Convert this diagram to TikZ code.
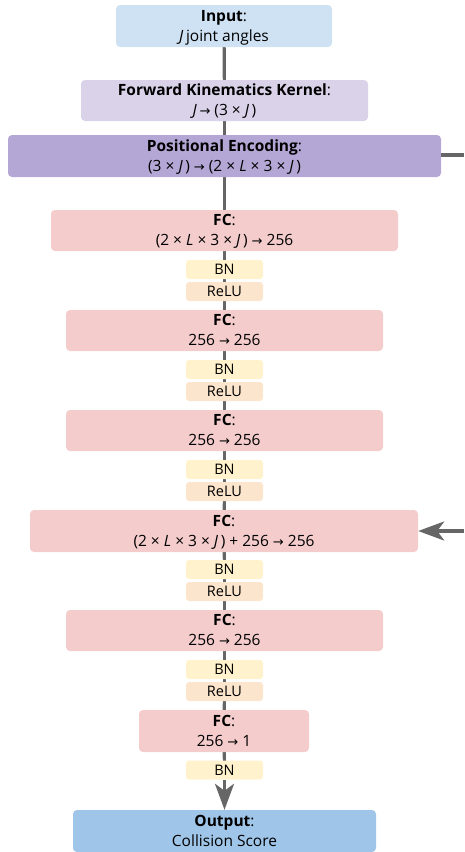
\documentclass[tikz,border=0pt]{standalone}
\usepackage{fontspec}
\setmainfont{Open Sans}
\newfontfamily\symf{DejaVu Sans}
\usetikzlibrary{arrows.meta,backgrounds}
\definecolor{cin}{HTML}{CFE2F3}
\definecolor{cfk}{HTML}{D9D2E9}
\definecolor{cpe}{HTML}{B4A7D6}
\definecolor{cfc}{HTML}{F4CCCC}
\definecolor{cbn}{HTML}{FFF2CC}
\definecolor{crl}{HTML}{FCE5CD}
\definecolor{cout}{HTML}{9FC5E8}
\definecolor{cline}{HTML}{666666}
\newcommand{\ra}{{\symf\fontsize{13}{13}\selectfont →}}
\newcommand{\tm}{×}
\newcommand{\JJ}{\textit{J}\,}
\tikzset{
  box/.style={rounded corners=4pt, inner sep=0pt, align=center,
    font=\fontsize{15.5}{20}\selectfont, minimum height=41pt,
    text height=33.5pt, text depth=3.5pt},
  small/.style={rounded corners=3pt, inner sep=0pt, align=center,
    font=\fontsize{14.5}{15}\selectfont, minimum height=19pt, minimum width=77pt},
  link/.style={draw=cline, line width=3.2pt},
  bigtip/.style={-{Stealth[length=26pt,width=19pt,inset=7pt]}}
}
\begin{document}
\begin{tikzpicture}[x=1pt,y=-1pt]
\useasboundingbox (0,0) rectangle (464,852);
\node[box, fill=cin, minimum width=216pt, minimum height=42pt] (in) at (224,26) {\textbf{Input}:\\\JJ joint angles};
\node[box, fill=cfk, minimum width=287pt] (fk) at (224.5,100.5) {\textbf{Forward Kinematics Kernel}:\\\JJ\ra\ (3 \tm\ \JJ)};
\node[box, fill=cpe, minimum width=433pt, minimum height=42pt] (pe) at (224.5,156) {\textbf{Positional Encoding}:\\(3 \tm\ \JJ) \ra\ (2 \tm\ \textit{L} \tm\ 3 \tm\ \JJ)};
\node[box, fill=cfc, minimum width=347pt] (fc1) at (224.5,230.5) {\textbf{FC}:\\(2 \tm\ \textit{L} \tm\ 3 \tm\ \JJ) \ra\ 256};
\node[small, fill=cbn] (bn1) at (224.5,269.5) {BN};
\node[small, fill=crl] (rl1) at (224.5,291.5) {ReLU};
\node[box, fill=cfc, minimum width=317pt] (fc2) at (224.5,330.5) {\textbf{FC}:\\256 \ra\ 256};
\node[small, fill=cbn] (bn2) at (224.5,369.5) {BN};
\node[small, fill=crl] (rl2) at (224.5,391.5) {ReLU};
\node[box, fill=cfc, minimum width=317pt] (fc3) at (224.5,430.5) {\textbf{FC}:\\256 \ra\ 256};
\node[small, fill=cbn] (bn3) at (224.5,469.5) {BN};
\node[small, fill=crl] (rl3) at (224.5,491.5) {ReLU};
\node[box, fill=cfc, minimum width=388pt, minimum height=42pt] (fc4) at (224,531) {\textbf{FC}:\\(2 \tm\ \textit{L} \tm\ 3 \tm\ \JJ) + 256 \ra\ 256};
\node[small, fill=cbn] (bn4) at (224.5,569.5) {BN};
\node[small, fill=crl] (rl4) at (224.5,591.5) {ReLU};
\node[box, fill=cfc, minimum width=317pt] (fc5) at (224.5,630.5) {\textbf{FC}:\\256 \ra\ 256};
\node[small, fill=cbn] (bn5) at (224.5,669.5) {BN};
\node[small, fill=crl] (rl5) at (224.5,691.5) {ReLU};
\node[box, fill=cfc, minimum width=170pt, minimum height=42pt] (fc6) at (224,731) {\textbf{FC}:\\256 \ra\ 1};
\node[small, fill=cbn] (bn6) at (224.5,770) {BN};
\node[box, fill=cout, minimum width=303pt, minimum height=42pt] (out) at (224.5,831) {\textbf{Output}:\\Collision Score};
\coordinate (e1) at (464,155);
\coordinate (e2) at (464,531);
\begin{scope}[on background layer]
\foreach \a/\b in {in/fk,fk/pe,pe/fc1,fc1/bn1,bn1/rl1,rl1/fc2,fc2/bn2,bn2/rl2,rl2/fc3,fc3/bn3,bn3/rl3,rl3/fc4,fc4/bn4,bn4/rl4,rl4/fc5,fc5/bn5,bn5/rl5,rl5/fc6,fc6/bn6}
  \draw[link] (\a.center) -- (\b.center);
\end{scope}
\draw[link, bigtip] (bn6.south) -- (out.north);
\draw[link] (pe.east |- e1) -- (e1);
\draw[link, bigtip] (e2) -- (fc4.east);
\end{tikzpicture}
\end{document}
